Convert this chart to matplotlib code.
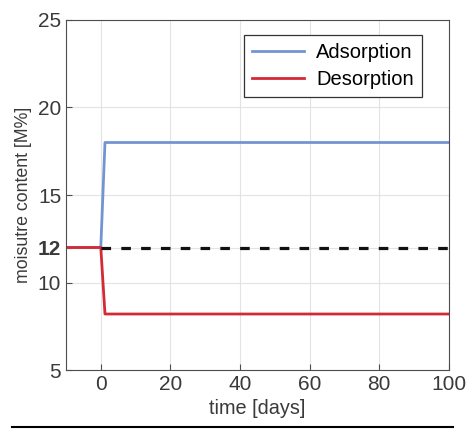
import matplotlib
matplotlib.use("Agg")
import matplotlib.pyplot as plt
from matplotlib.lines import Line2D

plt.rcParams['font.family'] = ['Liberation Sans', 'DejaVu Sans']

# data
t_ads = [-10, 0, 1.2, 100]
m_ads = [12, 12, 18, 18]
t_des = [-10, 0, 1.2, 100]
m_des = [12, 12, 8.2, 8.2]
t_ref = [0, 100]
m_ref = [12, 12]
xticks = [0, 20, 40, 60, 80, 100]
yticks = [5, 10, 12, 15, 20, 25]

fig = plt.figure(figsize=(4.69, 4.30), dpi=100)
ax = fig.add_axes([0.1407, 0.1395, 0.8163, 0.814])

ax.plot(t_ads, m_ads, color='#7394d2', lw=2, label='Adsorption')
ax.plot(t_des, m_des, color='#d42a35', lw=2, label='Desorption')
ax.plot(t_ref, m_ref, color='#111111', lw=2.3, ls=(0, (3, 3.2)))

ax.set_xlim(-10, 100)
ax.set_ylim(5, 25)
ax.set_xticks(xticks)
ax.set_yticks(yticks)
ax.set_yticklabels([str(v) for v in yticks])
for lab in ax.get_yticklabels():
    if lab.get_text() == '12':
        lab.set_fontweight('bold')
        lab.set_color('#222222')
ax.tick_params(direction='in', length=4, labelsize=15, colors='#4d4d4d', labelcolor='#3a3a3a', width=0.8)
ax.grid(True, color='#e3e3e3', lw=0.8)
for s in ax.spines.values():
    s.set_color('#4d4d4d')
    s.set_linewidth(0.8)

ax.set_xlabel('time [days]', fontsize=14.3, color='#3a3a3a', labelpad=4)
ax.set_ylabel('moisutre content [M%]', fontsize=12.8, color='#3a3a3a', labelpad=4)

leg = ax.legend(loc='upper right', bbox_to_anchor=(0.93, 0.957), fontsize=14.5, fancybox=False,
                framealpha=1, edgecolor='#333333', handlelength=2.6, borderpad=0.4,
                labelspacing=0.4, handletextpad=0.6, borderaxespad=0)
leg.get_frame().set_linewidth(0.9)

fig.add_artist(Line2D([0.025, 0.966], [0.007, 0.007], color='black', lw=1.5, transform=fig.transFigure))

fig.savefig('out.png', dpi=100)
